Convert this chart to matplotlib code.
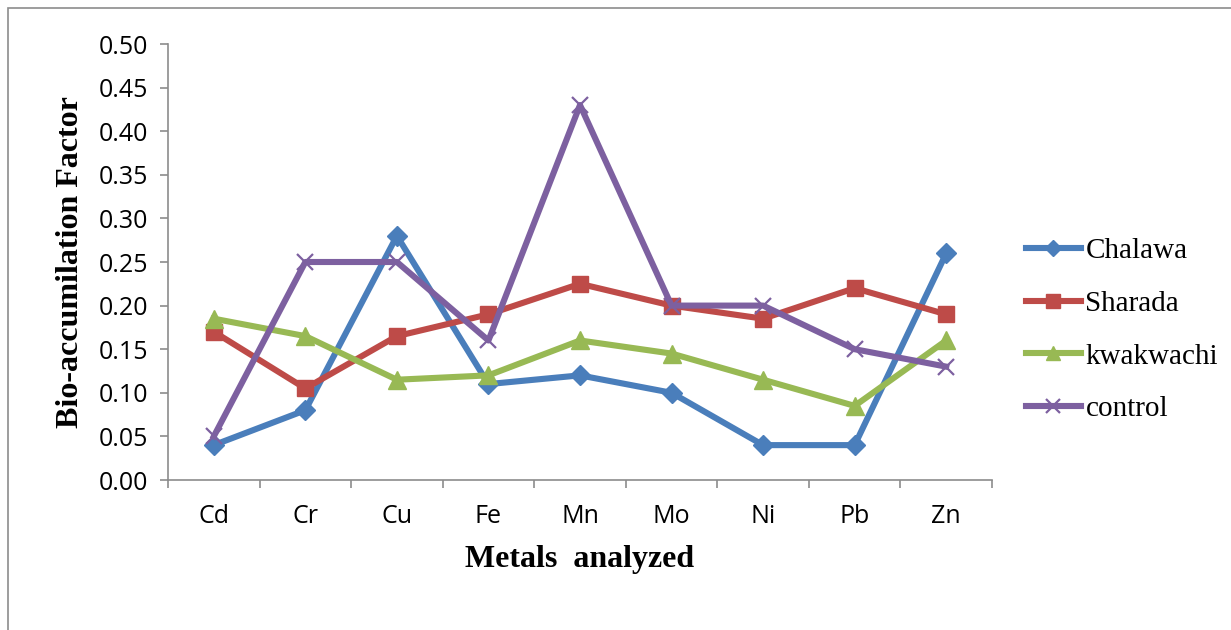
import numpy as np
import matplotlib.pyplot as plt
from matplotlib.patches import Rectangle

metals = ['Cd', 'Cr', 'Cu', 'Fe', 'Mn', 'Mo', 'Ni', 'Pb', 'Zn']
chalawa = [0.04, 0.08, 0.28, 0.11, 0.12, 0.10, 0.04, 0.04, 0.26]
sharada = [0.17, 0.105, 0.165, 0.19, 0.225, 0.20, 0.185, 0.22, 0.19]
kwakwachi = [0.185, 0.165, 0.115, 0.12, 0.16, 0.145, 0.115, 0.085, 0.16]
control = [0.05, 0.25, 0.25, 0.16, 0.43, 0.20, 0.20, 0.15, 0.13]
yticks = [0.00, 0.05, 0.10, 0.15, 0.20, 0.25, 0.30, 0.35, 0.40, 0.45, 0.50]

fig = plt.figure(figsize=(12.31, 6.30), dpi=100)
# outer chart frame
fig.add_artist(Rectangle((8/1231, -0.1), 1.2, 1 - 8/630 + 0.1, transform=fig.transFigure,
                         fill=False, edgecolor='#8c8c8c', linewidth=1.2))

ax = fig.add_axes([168/1231, 1 - 480/630, 824/1231, 436/630])
x = np.arange(len(metals))

ax.plot(x, chalawa, color='#4A7EBB', lw=4.4, marker='D', ms=10, label='Chalawa')
ax.plot(x, sharada, color='#BE4B48', lw=4.4, marker='s', ms=12, label='Sharada')
ax.plot(x, kwakwachi, color='#98B954', lw=4.4, marker='^', ms=13, label='kwakwachi')
ax.plot(x, control, color='#7D60A0', lw=4.4, marker='x', ms=12, mew=1.6, label='control')

ax.set_xlim(-0.5, len(metals) - 0.5)
ax.set_ylim(0, 0.5)
ax.set_yticks(yticks)
ax.set_yticklabels(['%.2f' % v for v in yticks], fontsize=18, family='Open Sans')
ax.set_xticks(x)
ax.set_xticklabels(metals, fontsize=18, family='Open Sans')
ax.set_xticks(np.arange(-0.5, len(metals)), minor=True)
ax.tick_params(axis='x', which='major', length=0, pad=17)
ax.tick_params(axis='x', which='minor', length=6, color='#8c8c8c', width=1.2)
ax.tick_params(axis='y', length=6, color='#8c8c8c', width=1.2, pad=8)

for s in ['top', 'right']:
    ax.spines[s].set_visible(False)
for s in ['left', 'bottom']:
    ax.spines[s].set_color('#8c8c8c')
    ax.spines[s].set_linewidth(1.2)

ax.set_xlabel('Metals  analyzed', fontsize=23, fontweight='bold', family='Liberation Serif', labelpad=12)
ax.set_ylabel('Bio-accumilation Factor', fontsize=23, fontweight='bold', family='Liberation Serif', labelpad=10)

leg = ax.legend(loc='center left', bbox_to_anchor=(1.009, 0.344), frameon=False,
                prop={'family': 'Liberation Serif', 'size': 21},
                handlelength=1.9, handletextpad=0.15, labelspacing=0.9, markerscale=0.8)

fig.savefig('out.png', dpi=100)
